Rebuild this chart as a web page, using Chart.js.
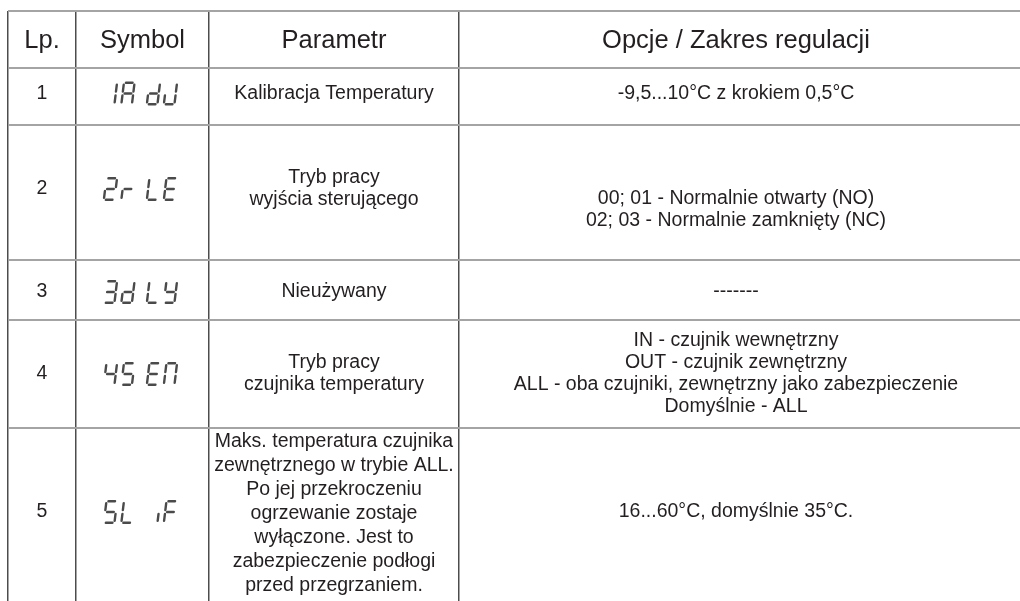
<!DOCTYPE html>
<html><head><meta charset="utf-8">
<script src="https://cdn.jsdelivr.net/npm/chart.js@4/dist/chart.umd.min.js"></script>
<style>html,body{margin:0;padding:0;background:#fff}#wrap{width:1020px;height:601px;position:relative}</style>
</head><body><div id="wrap"><canvas id="c"></canvas></div>
<script>
// ---- data ----
const headers = ['Lp.', 'Symbol', 'Parametr', 'Opcje / Zakres regulacji'];
const lp = ['1', '2', '3', '4', '5'];
const symbols = ['1AdJ', '2rLE', '3dLY', '4SEn', '5LiF'];
const params = [
  ['Kalibracja Temperatury'],
  ['Tryb pracy', 'wyjścia sterującego'],
  ['Nieużywany'],
  ['Tryb pracy', 'czujnika temperatury'],
  ['Maks. temperatura czujnika', 'zewnętrznego w trybie ALL.', 'Po jej przekroczeniu', 'ogrzewanie zostaje', 'wyłączone. Jest to', 'zabezpieczenie podłogi', 'przed przegrzaniem.']
];
const optionsText = [
  ['-9,5...10°C z krokiem 0,5°C'],
  ['00; 01 - Normalnie otwarty (NO)', '02; 03 - Normalnie zamknięty (NC)'],
  ['-------'],
  ['IN - czujnik wewnętrzny', 'OUT - czujnik zewnętrzny', 'ALL - oba czujniki, zewnętrzny jako zabezpieczenie', 'Domyślnie - ALL'],
  ['16...60°C, domyślnie 35°C.']
];

// ---- layout (not data) ----
const colEdges = [0, 68, 201, 451, 1005];
const rowEdges = [0, 57, 114, 249, 309, 417, 585];
const lineGap = [22, 22, 22, 22, 24];
const rowShift = [-3, -3.5, 2, 0, 0];
const paramShift = [0, 0, 0, 0, 2];
const optShift = [0, 21, 0, 0, 0];
const TEXT = '#231f20';
const SEG = '#4a4a4a';
const FONT = '"Liberation Sans", Arial, Helvetica, sans-serif';

const SEGMAP = {
  '1': 'bc', '2': 'abged', '3': 'abgcd', '4': 'fgbc', '5': 'afgcd', 'S': 'afgcd',
  'A': 'abcefg', 'd': 'bcdeg', 'J': 'bcde', 'r': 'eg', 'L': 'fed', 'E': 'afged',
  'Y': 'fgbcd', 'n': 'abcef', 'i': 'c', 'F': 'afge', ' ': ''
};

function drawDigit(ctx, ch, left, top) {
  const W = 13, H = 24, k = 0.12, t = 2.4;
  const segs = SEGMAP[ch] || '';
  ctx.save();
  ctx.translate(left + k * H, top);
  ctx.transform(1, 0, -k, 1, 0, 0);
  ctx.strokeStyle = SEG;
  ctx.lineWidth = t;
  ctx.lineCap = 'round';
  const xl = t / 2, xr = W - t / 2, hx1 = 3.2, hx2 = W - 3.2;
  const ya = t / 2, yg = H / 2, yd = H - t / 2;
  const L = {
    a: [hx1, ya, hx2, ya], g: [hx1, yg, hx2, yg], d: [hx1, yd, hx2, yd],
    f: [xl, 3.2, xl, yg - 1.9], e: [xl, yg + 1.9, xl, H - 3.2],
    b: [xr, 3.2, xr, yg - 1.9], c: [xr, yg + 1.9, xr, H - 3.2]
  };
  ctx.beginPath();
  for (const s of segs) { const p = L[s]; ctx.moveTo(p[0], p[1]); ctx.lineTo(p[2], p[3]); }
  ctx.stroke();
  ctx.restore();
}

const tablePlugin = {
  id: 'tableText',
  afterDraw(chart) {
    const ctx = chart.ctx, xs = chart.scales.x, ys = chart.scales.y;
    const cx = c => xs.getPixelForValue((colEdges[c] + colEdges[c + 1]) / 2);
    const cy = r => ys.getPixelForValue((rowEdges[r] + rowEdges[r + 1]) / 2);
    ctx.save();
    ctx.fillStyle = TEXT;
    ctx.textAlign = 'center';
    ctx.textBaseline = 'middle';
    // header
    ctx.font = '25.5px ' + FONT;
    const hy = cy(0) + 1.5;
    headers.forEach((h, c) => ctx.fillText(h, cx(c), hy));
    // body
    ctx.font = '19.5px ' + FONT;
    for (let r = 0; r < lp.length; r++) {
      const yc = cy(r + 1) + rowShift[r];
      ctx.fillText(lp[r], cx(0), yc);
      const pl = params[r];
      pl.forEach((t, i) => ctx.fillText(t, cx(2), yc + paramShift[r] + (i - (pl.length - 1) / 2) * lineGap[r]));
      const ol = optionsText[r];
      ol.forEach((t, i) => ctx.fillText(t, cx(3), yc + optShift[r] + (i - (ol.length - 1) / 2) * lineGap[r]));
      // seven-segment symbol
      const offs = [0, 17.5, 43, 60];
      const gx = cx(1) - 2 - 38;
      [...symbols[r]].forEach((ch, i) => drawDigit(ctx, ch, gx + offs[i], yc - 12));
    }
    ctx.restore();
  }
};

new Chart(document.getElementById('c'), {
  type: 'scatter',
  data: { datasets: [{ data: [], showLine: false }] },
  options: {
    responsive: true, maintainAspectRatio: false, animation: false,
    layout: { padding: { left: 8, top: 11, right: 0, bottom: 0 } },
    plugins: { legend: { display: false }, tooltip: { enabled: false } },
    scales: {
      x: {
        type: 'linear', min: 0, max: 1012, z: 1,
        afterBuildTicks: s => { s.ticks = colEdges.slice(0, -1).map(v => ({ value: v })); },
        ticks: { display: false, autoSkip: false },
        grid: { color: '#4d4d4d', lineWidth: 1.5, drawTicks: false },
        border: { display: false }
      },
      y: {
        type: 'linear', min: 0, max: 590, reverse: true, z: 0,
        afterBuildTicks: s => { s.ticks = rowEdges.slice(0, -1).map(v => ({ value: v })); },
        ticks: { display: false, autoSkip: false },
        grid: { color: '#a4a4a4', lineWidth: 2, drawTicks: false },
        border: { display: false }
      }
    }
  },
  plugins: [tablePlugin]
});
</script>
</body></html>
